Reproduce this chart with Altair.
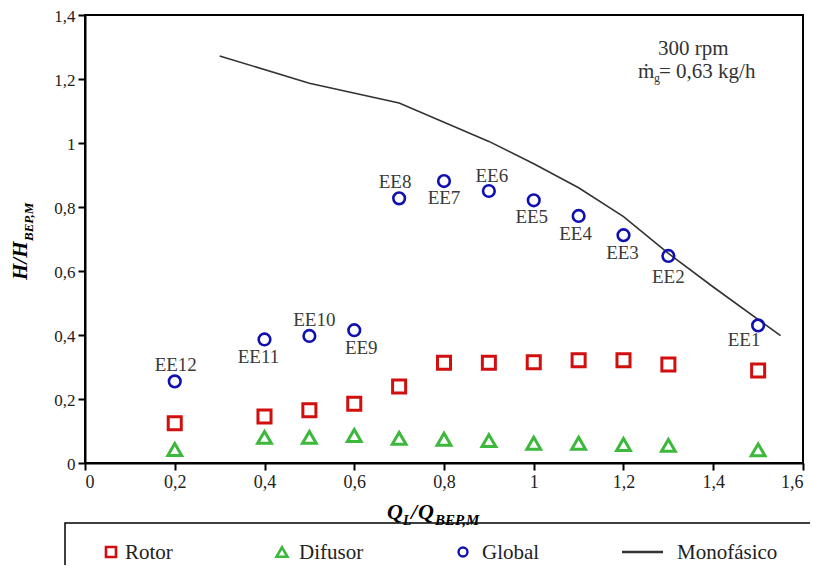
import altair as alt
import pandas as pd

# ---- data ----
q_ratio = [0.2, 0.4, 0.5, 0.6, 0.7, 0.8, 0.9, 1.0, 1.1, 1.2, 1.3, 1.5]
h_global = [0.255, 0.386, 0.397, 0.415, 0.827, 0.881, 0.850, 0.821, 0.772, 0.712, 0.647, 0.430]
h_rotor = [0.124, 0.145, 0.165, 0.185, 0.239, 0.313, 0.313, 0.315, 0.321, 0.321, 0.308, 0.289]
h_difusor = [0.042, 0.080, 0.080, 0.086, 0.077, 0.074, 0.070, 0.062, 0.062, 0.058, 0.055, 0.041]
ee_labels = ["EE12", "EE11", "EE10", "EE9", "EE8", "EE7", "EE6", "EE5", "EE4", "EE3", "EE2", "EE1"]

mono_q = [0.3, 0.5, 0.7, 0.8, 0.9, 1.0, 1.1, 1.2, 1.3, 1.4, 1.55]
mono_h = [1.272, 1.187, 1.125, 1.065, 1.005, 0.935, 0.860, 0.770, 0.655, 0.550, 0.398]

x_ticks = [0, 0.2, 0.4, 0.6, 0.8, 1.0, 1.2, 1.4, 1.6]
y_ticks = [0, 0.2, 0.4, 0.6, 0.8, 1.0, 1.2, 1.4]

# label pixel offsets (style)
lab_dx = [1, -6, 5, 7, -4, 0, 3, -2, -3, -1, 0, -14]
lab_dy = [-16, 18, -16, 18, -16, 17, -15, 17, 18, 18, 21, 15]

W, H = 718, 448
XMAX, YMAX = 1.6, 1.4
SERIF = "Liberation Serif"
RED, GREEN, BLUE = "#d10f0f", "#3cb83c", "#1010b0"

pts = pd.DataFrame({"q": q_ratio, "g": h_global, "r": h_rotor, "d": h_difusor, "lab": ee_labels})
pts["lx"] = [q + dx * XMAX / W for q, dx in zip(q_ratio, lab_dx)]
pts["ly"] = [g - dy * YMAX / H for g, dy in zip(h_global, lab_dy)]
mono = pd.DataFrame({"q": mono_q, "h": mono_h})

xs = alt.Scale(domain=[0, XMAX], nice=False, zero=False)
ys = alt.Scale(domain=[0, YMAX], nice=False, zero=False)
lab_expr = "replace(format(datum.value, '.1~f'), '.', ',')"
xax = alt.Axis(values=x_ticks, labelExpr=lab_expr, title=None, labelFontSize=18)
yax = alt.Axis(values=y_ticks, labelExpr=lab_expr, title=None, labelFontSize=17, labelOffset=1.5)

base = alt.Chart(pts)

line = alt.Chart(mono).mark_line(color="#333333", strokeWidth=1.6).encode(
    x=alt.X("q:Q", scale=xs, axis=xax), y=alt.Y("h:Q", scale=ys, axis=yax)
)
rot = base.mark_point(shape="square", size=170, strokeWidth=3, color=RED, filled=False, opacity=1).encode(
    x=alt.X("q:Q", scale=xs), y=alt.Y("r:Q", scale=ys)
)
dif = base.mark_point(shape="triangle-up", size=190, strokeWidth=3, color=GREEN, filled=False, opacity=1).encode(
    x=alt.X("q:Q", scale=xs), y=alt.Y("d:Q", scale=ys)
)
glo = base.mark_point(shape="circle", size=135, strokeWidth=2.6, color=BLUE, filled=False, opacity=1).encode(
    x=alt.X("q:Q", scale=xs), y=alt.Y("g:Q", scale=ys)
)
labs = base.mark_text(font=SERIF, fontSize=19, color="#3a3a3a", baseline="middle").encode(
    x=alt.X("lx:Q", scale=xs), y=alt.Y("ly:Q", scale=ys), text="lab:N"
)

one = pd.DataFrame({"t": [""]})


def txt(s, x, y, size, angle=0, **kw):
    return alt.Chart(pd.DataFrame({"t": [s]})).mark_text(
        align="left", baseline="alphabetic", font=SERIF, fontSize=size, angle=angle, **kw
    ).encode(x=alt.value(x), y=alt.value(y), text="t:N")


annots = [
    # annotation box
    txt("300 rpm", 573, 40, 21, color="#333333"),
    txt("\u1e41", 553, 63, 21, color="#333333"),
    txt("g", 569, 67, 12, color="#333333"),
    txt("= 0,63 kg/h", 574, 63, 21, color="#333333"),
    # x title
    txt("Q", 302, 504, 22, fontStyle="italic", fontWeight="bold"),
    txt("L", 318, 510, 14, fontStyle="italic", fontWeight="bold"),
    txt("/", 326, 504, 22, fontStyle="italic", fontWeight="bold"),
    txt("Q", 333, 504, 22, fontStyle="italic", fontWeight="bold"),
    txt("BEP,M", 350, 510, 15, fontStyle="italic", fontWeight="bold"),
    # y title
    txt("H/H", -58, 265, 21, angle=270, fontStyle="italic", fontWeight="bold"),
    txt("BEP,M", -52, 226, 13, angle=270, fontStyle="italic", fontWeight="bold"),
]

# legend
LY = 537
leg_box = alt.Chart(one).mark_rect(fillOpacity=0, stroke="black", strokeWidth=1.5).encode(
    x=alt.value(-20), x2=alt.value(745), y=alt.value(508), y2=alt.value(580)
)
leg = [
    leg_box,
    alt.Chart(one).mark_point(shape="square", size=100, strokeWidth=2.6, color=RED, opacity=1).encode(
        x=alt.value(26), y=alt.value(LY)
    ),
    txt("Rotor", 40, LY + 7, 21, color="#222222"),
    alt.Chart(one).mark_point(shape="triangle-up", size=120, strokeWidth=2.6, color=GREEN, opacity=1).encode(
        x=alt.value(197), y=alt.value(LY)
    ),
    txt("Difusor", 214, LY + 7, 21, color="#222222"),
    alt.Chart(one).mark_point(shape="circle", size=80, strokeWidth=2.4, color=BLUE, opacity=1).encode(
        x=alt.value(378), y=alt.value(LY)
    ),
    txt("Global", 397, LY + 7, 21, color="#222222"),
    alt.Chart(one).mark_rule(color="#333333", strokeWidth=2.5).encode(
        x=alt.value(537), x2=alt.value(578), y=alt.value(LY)
    ),
    txt("Monofásico", 592, LY + 7, 21, color="#222222"),
]

chart = alt.layer(line, rot, dif, glo, labs, *annots, *leg).properties(
    width=W, height=H,
    autosize=alt.AutoSizeParams(type="none"),
    padding={"left": 77, "top": 7, "right": 7, "bottom": 102},
).configure_view(
    stroke="black", strokeWidth=2
).configure_axis(
    grid=False, domainColor="black", domainWidth=2, tickColor="black", tickWidth=2, tickSize=7,
    labelFont=SERIF, labelColor="#222222", labelPadding=3,
)

chart.save("out.html", embed_options={"renderer": "svg", "actions": False})
